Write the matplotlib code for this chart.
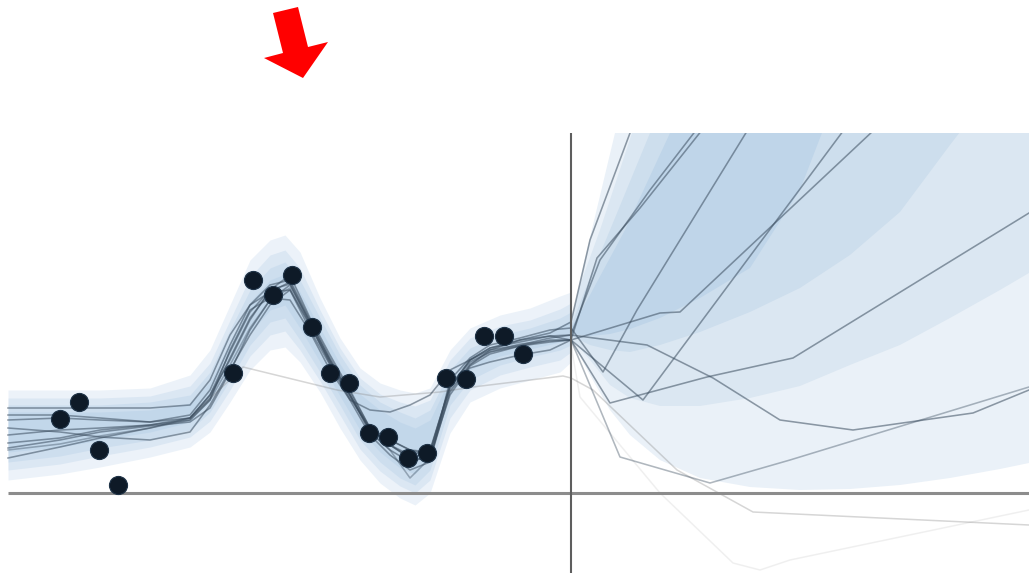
import numpy as np
import matplotlib
matplotlib.use("Agg")
import matplotlib.pyplot as plt
from matplotlib.patches import Polygon, Rectangle

# everything is measured in picture pixels (y grows downward)
W, H = 1029, 573
AXIS_Y = 493      # horizontal zero line
SPLIT_X = 571     # vertical "now" line
TOP_Y = 133       # top of the plotting area

# observed points
pts_x = [60, 79, 99, 118, 233, 253, 273, 292, 312, 330, 349, 369, 388, 408, 427, 446, 466, 484, 504, 523]
pts_y = [419, 402, 450, 485, 373, 280, 295, 275, 327, 373, 383, 433, 437, 458, 453, 378, 379, 336, 336, 354]

# fuzzy band on the observed side
band_x = [8, 60, 100, 150, 190, 210, 230, 250, 270, 285, 300, 320, 340, 360, 380, 400, 415, 430, 450, 470, 500, 530, 560, 571]
outer_up = [390, 390, 390, 388, 375, 350, 305, 260, 240, 235, 252, 298, 338, 368, 383, 390, 393, 388, 350, 328, 315, 308, 296, 292]
outer_lo = [480, 474, 467, 457, 447, 432, 402, 370, 350, 347, 362, 392, 428, 460, 483, 498, 505, 493, 433, 402, 388, 380, 372, 362]
mid_up = [398, 398, 398, 396, 386, 363, 320, 277, 255, 250, 268, 310, 348, 378, 394, 402, 406, 400, 360, 338, 326, 320, 309, 303]
mid_lo = [470, 464, 456, 447, 437, 421, 390, 356, 335, 331, 350, 381, 415, 449, 471, 486, 493, 480, 418, 390, 375, 367, 360, 352]
inner_up = [405, 405, 405, 402, 395, 372, 330, 290, 268, 262, 280, 318, 355, 385, 402, 412, 418, 410, 370, 348, 335, 328, 318, 312]
inner_lo = [462, 456, 448, 440, 430, 412, 380, 345, 322, 318, 340, 372, 405, 440, 462, 478, 485, 470, 405, 380, 365, 357, 350, 345]
core_up = [412, 412, 412, 410, 403, 382, 342, 302, 280, 274, 292, 328, 364, 394, 410, 422, 428, 420, 378, 356, 342, 336, 326, 320]
core_lo = [452, 447, 440, 432, 422, 402, 368, 333, 310, 305, 328, 362, 396, 430, 452, 468, 474, 458, 395, 370, 356, 349, 342, 338]

# forecast fan, outer -> inner
fan_x = [571, 590, 610, 630, 660, 700, 750, 800, 850, 900, 950, 1000, 1029]
fan_lo = [
    [340, 375, 410, 435, 460, 478, 487, 490, 489, 485, 478, 469, 463],
    [338, 360, 385, 398, 406, 406, 398, 386, 365, 345, 318, 290, 273],
    [336, 345, 350, 352, 345, 332, 312, 288, 255, 212, 145, 80, 40],
    [334, 336, 334, 329, 318, 298, 268, 190, 60, -60, -180, -300, -360],
]
fan_up_x = [
    [571, 580, 593, 615, 630],
    [571, 580, 600, 632, 650],
    [571, 585, 610, 650, 670],
    [571, 590, 625, 670, 690],
]
fan_up_y = [
    [322, 280, 225, 133, 60],
    [324, 285, 230, 133, 70],
    [326, 290, 230, 133, 80],
    [328, 295, 230, 133, 90],
]
fan_colors = ["#eaf1f8", "#dbe7f2", "#cddeed", "#bfd5e9"]

# sample paths: shared left grid + individual continuation
left_x = [8, 60, 100, 150, 190, 210, 230, 250, 270, 290, 310, 330, 350, 370, 390, 410, 430, 450, 470, 490, 520, 550, 571]
samples_left = [
    [408, 408, 408, 408, 405, 380, 335, 305, 292, 290, 325, 362, 395, 430, 445, 458, 460, 392, 365, 350, 340, 333, 322],
    [428, 432, 437, 440, 432, 405, 370, 335, 305, 290, 330, 365, 400, 410, 412, 405, 395, 370, 360, 350, 345, 338, 335],
    [458, 447, 438, 428, 418, 395, 360, 320, 290, 275, 318, 355, 390, 428, 445, 458, 452, 385, 368, 362, 355, 350, 340],
    [443, 438, 430, 425, 420, 400, 350, 310, 298, 300, 332, 370, 400, 435, 455, 470, 462, 380, 358, 345, 338, 330, 328],
    [420, 418, 420, 422, 415, 390, 345, 305, 285, 280, 320, 358, 392, 428, 440, 450, 455, 388, 360, 348, 342, 336, 340],
    [448, 440, 432, 426, 422, 408, 372, 330, 300, 285, 322, 360, 395, 432, 450, 462, 456, 395, 366, 354, 346, 340, 340],
    [435, 430, 428, 425, 418, 398, 358, 318, 292, 282, 322, 360, 395, 430, 445, 455, 450, 386, 362, 352, 346, 342, 340],
    [415, 415, 418, 422, 418, 395, 352, 312, 290, 284, 324, 364, 398, 428, 440, 450, 452, 386, 360, 348, 340, 336, 335],
    [450, 444, 436, 428, 420, 400, 365, 328, 300, 288, 326, 362, 396, 432, 450, 478, 458, 390, 364, 352, 344, 341, 340],
]
samples_right = [
    [(590, 240), (630, 133), (645, 90)],
    [(600, 260), (650, 190), (700, 125)],
    [(597, 258), (640, 208), (710, 120)],
    [(603, 372), (637, 310), (760, 110)],
    [(660, 313), (680, 312), (890, 115)],
    [(643, 400), (855, 115)],
    [(610, 403), (707, 377), (793, 358), (1029, 213)],
    [(647, 345), (713, 378), (780, 420), (853, 430), (973, 413), (1029, 390)],
    [(620, 457), (710, 483), (790, 460), (1029, 387)],
]
samples_alpha = [0.55, 0.55, 0.55, 0.55, 0.55, 0.55, 0.55, 0.55, 0.4]

faint_x = [190, 243, 337, 380, 440, 473, 563, 571, 593, 677, 753, 1029]
faint_y = [418, 367, 390, 397, 392, 387, 376, 378, 390, 470, 512, 525]
ghost_x = [571, 580, 660, 733, 760, 790, 1029]
ghost_y = [345, 397, 493, 563, 570, 560, 510]

# red pointer
arrow_xy = [(273, 13), (298, 7), (308, 47), (328, 42), (303, 78), (264, 58), (283, 53)]

fig = plt.figure(figsize=(W / 100, H / 100), dpi=100)
ax = fig.add_axes([0, 0, 1, 1])
ax.set_xlim(0, W)
ax.set_ylim(H, 0)
ax.axis("off")

clip = Rectangle((0, TOP_Y), W, H - TOP_Y, transform=ax.transData)

# observed-side uncertainty, soft layered
for up, lo, a in [(outer_up, outer_lo, 0.22), (mid_up, mid_lo, 0.25),
                  (inner_up, inner_lo, 0.28), (core_up, core_lo, 0.3)]:
    ax.fill_between(band_x, up, lo, color="#a9c7e4", alpha=a, lw=0, zorder=1)

# forecast fan
for lo, ux, uy, c in zip(fan_lo, fan_up_x, fan_up_y, fan_colors):
    xs = fan_x + [ax.get_xlim()[1], ax.get_xlim()[1]] + ux[::-1]
    ys = lo + [lo[-1], -400] + uy[::-1]
    poly = Polygon(list(zip(xs, ys)), closed=True, facecolor=c, edgecolor="none", zorder=2)
    ax.add_patch(poly)
    poly.set_clip_path(clip)

# sample paths
ln, = ax.plot(ghost_x, ghost_y, color="#9a9a9a", lw=1.1, alpha=0.15, zorder=3)
ln.set_clip_path(clip)
ln, = ax.plot(faint_x, faint_y, color="#8a8a8a", lw=1.1, alpha=0.35, zorder=3)
ln.set_clip_path(clip)
for ly, rp, a in zip(samples_left, samples_right, samples_alpha):
    xs = left_x + [p[0] for p in rp]
    ys = ly + [p[1] for p in rp]
    ln, = ax.plot(xs, ys, color="#3a4c5e", lw=1.15, alpha=a, zorder=4)
    ln.set_clip_path(clip)

# zero line and present-time line
ax.plot([8, W], [AXIS_Y, AXIS_Y], color="#8c8c8c", lw=2.2, zorder=5, solid_capstyle="butt")
ax.plot([SPLIT_X, SPLIT_X], [TOP_Y, H], color="#5e5e5e", lw=1.5, zorder=5, solid_capstyle="butt")

# observations
ax.scatter(pts_x, pts_y, s=170, color="#0e1a27", edgecolor="#1f3347", lw=0.8, zorder=6)

ax.add_patch(Polygon(arrow_xy, closed=True, facecolor="#ff0000", edgecolor="none", zorder=7))

fig.savefig("out.png", dpi=100, facecolor="white")
